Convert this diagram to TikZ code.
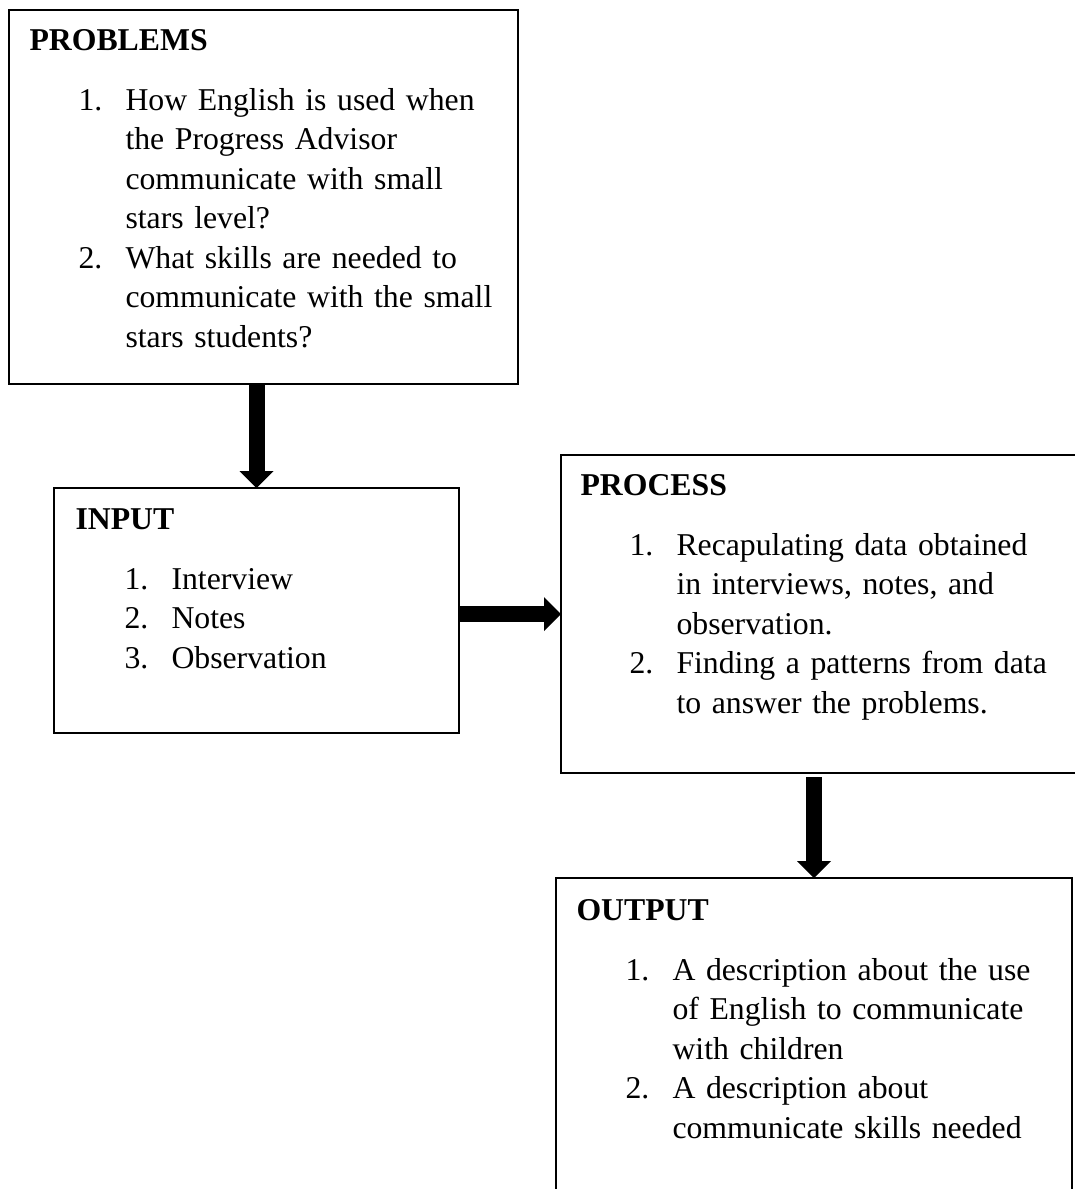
\documentclass[tikz,border=0pt]{standalone}
\usepackage{fontspec}
\setmainfont{Liberation Serif}
\usepackage{enumitem}
\usetikzlibrary{arrows.meta}
\setlist[enumerate]{label=\arabic*., leftmargin=38.4pt, labelwidth=18.8pt,
  labelsep=0pt, align=left, topsep=8.2pt, partopsep=0pt, itemsep=0pt, parsep=0pt}
\tikzset{
  boxframe/.style={draw, line width=0.5pt, inner sep=0pt, outer sep=0pt, anchor=north west},
  boxtext/.style={inner sep=0pt, anchor=base west, align=left,
    font=\fontsize{12.7pt}{15.8pt}\selectfont},
  bigarrow/.style={line width=6.4pt, -{Triangle[width=13.6pt, length=6.8pt, line width=0pt]}}
}

\begin{document}
\begin{tikzpicture}[x=0.4pt, y=-0.4pt]
    \useasboundingbox (0,0) rectangle (1075,1189);
    \clip (0,0) rectangle (1075,1189);

    % Boxes
    \node[boxframe, minimum width=203.6pt, minimum height=149.6pt] (problems) at (9,10) {};
    \node[boxframe, minimum width=162pt, minimum height=98pt] (input) at (54,488) {};
    \node[boxframe, minimum width=212pt, minimum height=127.2pt] (process) at (561,455) {};
    \node[boxframe, minimum width=206.4pt, minimum height=136pt] (output) at (556,878) {};

    % Texts
    \node[boxtext, text width=195pt] (problemstext) at (29,50) {\textbf{PROBLEMS}
      \begin{enumerate}
        \item How English is used when\\ the Progress Advisor\\ communicate with small\\ stars level?
        \item What skills are needed to\\ communicate with the small\\ stars students?
      \end{enumerate}};
    \node[boxtext, text width=150pt] (inputtext) at (75,529) {\textbf{INPUT}
      \begin{enumerate}
        \item Interview
        \item Notes
        \item Observation
      \end{enumerate}};
    \node[boxtext, text width=195pt] (processtext) at (580,495) {\textbf{PROCESS}
      \begin{enumerate}
        \item Recapulating data obtained\\ in interviews, notes, and\\ observation.
        \item Finding a patterns from data\\ to answer the problems.
      \end{enumerate}};
    \node[boxtext, text width=195pt] (outputtext) at (576,920) {\textbf{OUTPUT}
      \begin{enumerate}
        \item A description about the use\\ of English to communicate\\ with children
        \item A description about\\ communicate skills needed
      \end{enumerate}};

    % Arrows
    \draw[bigarrow] (input.north |- problems.south) -- (input.north);
    \draw[bigarrow] (input.east |- process.west) -- (process.west);
    \draw[bigarrow, shorten <=1.6pt] (output.north |- process.south) -- (output.north);
\end{tikzpicture}
\end{document}
